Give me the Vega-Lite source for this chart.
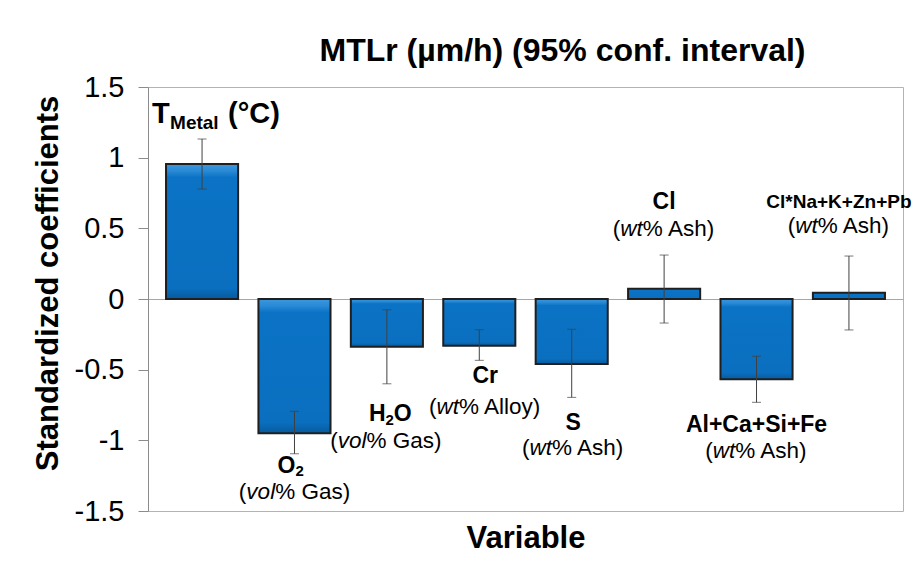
{
  "$schema": "https://vega.github.io/schema/vega-lite/v6.json",
  "width": 755,
  "height": 424,
  "autosize": {"type": "none"},
  "padding": {"left": 148, "top": 87, "right": 15, "bottom": 59},
  "background": "white",
  "title": {
    "text": "MTLr (µm/h) (95% conf. interval)",
    "font": "Liberation Sans",
    "fontSize": 32,
    "fontWeight": "bold",
    "color": "#000",
    "anchor": "middle",
    "dx": 37,
    "offset": -20,
    "baseline": "alphabetic"
  },
  "data": {
    "values": [
      {"var": "T_Metal", "coef": 0.955, "lo": 0.778, "hi": 1.132},
      {"var": "O2", "coef": -0.95, "lo": -1.095, "hi": -0.795},
      {"var": "H2O", "coef": -0.337, "lo": -0.6, "hi": -0.076},
      {"var": "Cr", "coef": -0.33, "lo": -0.434, "hi": -0.217},
      {"var": "S", "coef": -0.46, "lo": -0.696, "hi": -0.214},
      {"var": "Cl", "coef": 0.072, "lo": -0.17, "hi": 0.311},
      {"var": "Al+Ca+Si+Fe", "coef": -0.568, "lo": -0.731, "hi": -0.405},
      {"var": "Cl*Na+K+Zn+Pb", "coef": 0.045, "lo": -0.219, "hi": 0.304}
    ]
  },
  "encoding": {
    "x": {
      "field": "var",
      "type": "nominal",
      "sort": null,
      "scale": {"paddingInner": 0.22, "paddingOuter": 0.195},
      "axis": {
        "title": "Variable",
        "labels": false,
        "ticks": false,
        "domain": false,
        "titleFontSize": 31,
        "titleFontWeight": "bold",
        "titleColor": "#000",
        "titlePadding": 12
      }
    }
  },
  "layer": [
    {
      "mark": {
        "type": "bar",
        "fill": {
          "gradient": "linear",
          "x1": 0, "y1": 0, "x2": 0, "y2": 1,
          "stops": [
            {"offset": 0, "color": "#3b98de"},
            {"offset": 0.05, "color": "#2a8ad6"},
            {"offset": 0.1, "color": "#0b73c5"},
            {"offset": 0.92, "color": "#0a6fbf"},
            {"offset": 1, "color": "#075a9c"}
          ]
        },
        "stroke": "#1f1f1f",
        "strokeWidth": 2
      },
      "encoding": {
        "y": {
          "field": "coef",
          "type": "quantitative",
          "scale": {"domain": [-1.5, 1.5], "nice": false},
          "axis": {
            "title": "Standardized coefficients",
            "values": [-1.5, -1, -0.5, 0, 0.5, 1, 1.5],
            "labelExpr": "'' + datum.value",
            "labelFontSize": 29,
            "labelColor": "#000",
            "labelPadding": 14,
            "tickSize": 10,
            "tickColor": "#8c8c8c",
            "domainColor": "#8c8c8c",
            "grid": true,
            "gridColor": "#a6a6a6",
            "gridOpacity": {"condition": {"test": "datum.value === 0", "value": 1}, "value": 0},
            "titleFontSize": 31,
            "titleFontWeight": "bold",
            "titleColor": "#000",
            "titlePadding": 10,
            "titleY": 196
          }
        },
        "y2": {"datum": 0}
      }
    },
    {
      "mark": {"type": "rule", "color": "#404040", "strokeWidth": 1},
      "encoding": {"y": {"field": "lo", "type": "quantitative"}, "y2": {"field": "hi"}}
    },
    {
      "mark": {"type": "tick", "color": "#404040", "size": 9, "thickness": 1},
      "encoding": {"y": {"field": "lo", "type": "quantitative"}}
    },
    {
      "mark": {"type": "tick", "color": "#404040", "size": 9, "thickness": 1},
      "encoding": {"y": {"field": "hi", "type": "quantitative"}}
    },

    {"transform": [{"filter": "datum.var === 'T_Metal'"}], "mark": {"type": "text", "text": "T", "fontWeight": "bold", "fontSize": 29, "align": "left", "dx": -50}, "encoding": {"y": {"datum": 1.245}}},
    {"transform": [{"filter": "datum.var === 'T_Metal'"}], "mark": {"type": "text", "text": "Metal", "fontWeight": "bold", "fontSize": 19, "align": "left", "dx": -32, "dy": 6}, "encoding": {"y": {"datum": 1.245}}},
    {"transform": [{"filter": "datum.var === 'T_Metal'"}], "mark": {"type": "text", "text": "(°C)", "fontWeight": "bold", "fontSize": 29, "align": "left", "dx": 26}, "encoding": {"y": {"datum": 1.245}}},

    {"transform": [{"filter": "datum.var === 'O2'"}], "mark": {"type": "text", "text": "O", "fontWeight": "bold", "fontSize": 23, "align": "left", "dx": -17}, "encoding": {"y": {"datum": -1.23}}},
    {"transform": [{"filter": "datum.var === 'O2'"}], "mark": {"type": "text", "text": "2", "fontWeight": "bold", "fontSize": 15, "align": "left", "dx": 1, "dy": 3}, "encoding": {"y": {"datum": -1.23}}},
    {"transform": [{"filter": "datum.var === 'O2'"}], "mark": {"type": "text", "text": "(", "align": "right", "dx": -48.1}, "encoding": {"y": {"datum": -1.415}}},
    {"transform": [{"filter": "datum.var === 'O2'"}], "mark": {"type": "text", "text": "vol", "fontStyle": "italic", "align": "left", "dx": -48.1}, "encoding": {"y": {"datum": -1.415}}},
    {"transform": [{"filter": "datum.var === 'O2'"}], "mark": {"type": "text", "text": "% Gas)", "align": "left", "dx": -19.3}, "encoding": {"y": {"datum": -1.415}}},

    {"transform": [{"filter": "datum.var === 'H2O'"}], "mark": {"type": "text", "text": "H", "fontWeight": "bold", "fontSize": 23, "align": "left", "dx": -18}, "encoding": {"y": {"datum": -0.866}}},
    {"transform": [{"filter": "datum.var === 'H2O'"}], "mark": {"type": "text", "text": "2", "fontWeight": "bold", "fontSize": 15, "align": "left", "dx": -1.4, "dy": 4}, "encoding": {"y": {"datum": -0.866}}},
    {"transform": [{"filter": "datum.var === 'H2O'"}], "mark": {"type": "text", "text": "O", "fontWeight": "bold", "fontSize": 23, "align": "left", "dx": 6.9}, "encoding": {"y": {"datum": -0.866}}},
    {"transform": [{"filter": "datum.var === 'H2O'"}], "mark": {"type": "text", "text": "(", "align": "right", "dx": -49.1}, "encoding": {"y": {"datum": -1.057}}},
    {"transform": [{"filter": "datum.var === 'H2O'"}], "mark": {"type": "text", "text": "vol", "fontStyle": "italic", "align": "left", "dx": -49.1}, "encoding": {"y": {"datum": -1.057}}},
    {"transform": [{"filter": "datum.var === 'H2O'"}], "mark": {"type": "text", "text": "% Gas)", "align": "left", "dx": -20.3}, "encoding": {"y": {"datum": -1.057}}},

    {"transform": [{"filter": "datum.var === 'Cr'"}], "mark": {"type": "text", "text": "Cr", "fontWeight": "bold", "fontSize": 23, "align": "center", "dx": 6}, "encoding": {"y": {"datum": -0.594}}},
    {"transform": [{"filter": "datum.var === 'Cr'"}], "mark": {"type": "text", "text": "(", "align": "right", "dx": -42.75}, "encoding": {"y": {"datum": -0.814}}},
    {"transform": [{"filter": "datum.var === 'Cr'"}], "mark": {"type": "text", "text": "wt", "fontStyle": "italic", "align": "left", "dx": -42.75}, "encoding": {"y": {"datum": -0.814}}},
    {"transform": [{"filter": "datum.var === 'Cr'"}], "mark": {"type": "text", "text": "% Alloy)", "align": "left", "dx": -20.25}, "encoding": {"y": {"datum": -0.814}}},

    {"transform": [{"filter": "datum.var === 'S'"}], "mark": {"type": "text", "text": "S", "fontWeight": "bold", "fontSize": 23, "align": "center", "dx": 1.5}, "encoding": {"y": {"datum": -0.927}}},
    {"transform": [{"filter": "datum.var === 'S'"}], "mark": {"type": "text", "text": "(", "align": "right", "dx": -42.25}, "encoding": {"y": {"datum": -1.104}}},
    {"transform": [{"filter": "datum.var === 'S'"}], "mark": {"type": "text", "text": "wt", "fontStyle": "italic", "align": "left", "dx": -42.25}, "encoding": {"y": {"datum": -1.104}}},
    {"transform": [{"filter": "datum.var === 'S'"}], "mark": {"type": "text", "text": "% Ash)", "align": "left", "dx": -19.75}, "encoding": {"y": {"datum": -1.104}}},

    {"transform": [{"filter": "datum.var === 'Cl'"}], "mark": {"type": "text", "text": "Cl", "fontWeight": "bold", "fontSize": 23, "align": "center"}, "encoding": {"y": {"datum": 0.637}}},
    {"transform": [{"filter": "datum.var === 'Cl'"}], "mark": {"type": "text", "text": "(", "align": "right", "dx": -43.75}, "encoding": {"y": {"datum": 0.446}}},
    {"transform": [{"filter": "datum.var === 'Cl'"}], "mark": {"type": "text", "text": "wt", "fontStyle": "italic", "align": "left", "dx": -43.75}, "encoding": {"y": {"datum": 0.446}}},
    {"transform": [{"filter": "datum.var === 'Cl'"}], "mark": {"type": "text", "text": "% Ash)", "align": "left", "dx": -21.25}, "encoding": {"y": {"datum": 0.446}}},

    {"transform": [{"filter": "datum.var === 'Al+Ca+Si+Fe'"}], "mark": {"type": "text", "text": "Al+Ca+Si+Fe", "fontWeight": "bold", "fontSize": 23, "align": "center"}, "encoding": {"y": {"datum": -0.941}}},
    {"transform": [{"filter": "datum.var === 'Al+Ca+Si+Fe'"}], "mark": {"type": "text", "text": "(", "align": "right", "dx": -43.75}, "encoding": {"y": {"datum": -1.125}}},
    {"transform": [{"filter": "datum.var === 'Al+Ca+Si+Fe'"}], "mark": {"type": "text", "text": "wt", "fontStyle": "italic", "align": "left", "dx": -43.75}, "encoding": {"y": {"datum": -1.125}}},
    {"transform": [{"filter": "datum.var === 'Al+Ca+Si+Fe'"}], "mark": {"type": "text", "text": "% Ash)", "align": "left", "dx": -21.25}, "encoding": {"y": {"datum": -1.125}}},

    {"transform": [{"filter": "datum.var === 'Cl*Na+K+Zn+Pb'"}], "mark": {"type": "text", "text": "Cl*Na+K+Zn+Pb", "fontWeight": "bold", "fontSize": 19, "align": "center", "dx": -10}, "encoding": {"y": {"datum": 0.644}}},
    {"transform": [{"filter": "datum.var === 'Cl*Na+K+Zn+Pb'"}], "mark": {"type": "text", "text": "(", "align": "right", "dx": -53.75}, "encoding": {"y": {"datum": 0.467}}},
    {"transform": [{"filter": "datum.var === 'Cl*Na+K+Zn+Pb'"}], "mark": {"type": "text", "text": "wt", "fontStyle": "italic", "align": "left", "dx": -53.75}, "encoding": {"y": {"datum": 0.467}}},
    {"transform": [{"filter": "datum.var === 'Cl*Na+K+Zn+Pb'"}], "mark": {"type": "text", "text": "% Ash)", "align": "left", "dx": -31.25}, "encoding": {"y": {"datum": 0.467}}}
  ],
  "config": {
    "font": "Liberation Sans",
    "view": {"stroke": "#b3b3b3", "strokeWidth": 1},
    "axis": {"labelFont": "Liberation Sans", "titleFont": "Liberation Sans"},
    "text": {"font": "Liberation Sans", "baseline": "alphabetic", "fontSize": 22.5, "color": "#000"}
  }
}
